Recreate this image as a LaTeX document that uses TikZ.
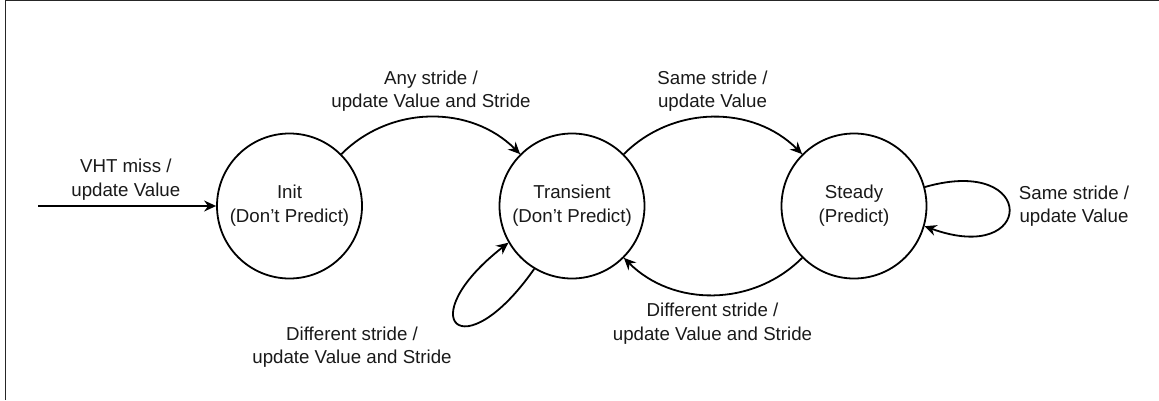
\documentclass[tikz,border=0pt]{standalone}
\usepackage{fontspec}
\setmainfont{Liberation Sans}
\usetikzlibrary{arrows.meta}

% two centred lines; the node's baseline is that of the first line
\newcommand{\twolines}[2]{\begin{tabular}[t]{@{}c@{}}#1\\#2\end{tabular}}

\begin{document}
\begin{tikzpicture}[
  x=1pt, y=1pt,
  every node/.style={font=\fontsize{18.7}{23.5}\selectfont, text=black!90},
  state/.style={circle, draw=black, line width=1.8pt, minimum size=145pt, inner sep=0pt},
  edge/.style={line width=1.8pt, -{Stealth[length=12pt, width=11pt, inset=4pt]}},
  lbl/.style={anchor=base, inner sep=0pt},
  frame/.style={line width=1pt, draw=black!85}
]
\useasboundingbox (0,0) rectangle (1159,400);
\draw[frame] (5,0) -- (5,399) -- (1159,399);

% states
\node[state] (init)   at (289.5,194) {\twolines{Init}{(Don’t Predict)}};
\node[state] (trans)  at (572,194)   {\twolines{Transient}{(Don’t Predict)}};
\node[state] (steady) at (854,194)   {\twolines{Steady}{(Predict)}};

% entry point
\coordinate (entry) at (38,194);

% transitions
\draw[edge] (entry) -- (init);
\draw[edge] (init.45) to[out=45, in=135] (trans.135);
\draw[edge] (trans.45) to[out=45, in=135] (steady.135);
\draw[edge] (steady.225) to[out=225, in=-45] (trans.-45);
\draw[edge] (trans.239) .. controls +(235:125) and +(218:125) .. (trans.210);
\draw[edge] (steady.15) .. controls +(16:118) and +(-20:118) .. (steady.-16);

% transition labels
\node[lbl] (l-miss)   at (125.8,227.5) {\twolines{VHT miss /}{update Value}};
\node[lbl] (l-any)    at (431,316)     {\twolines{Any stride /}{update Value and Stride}};
\node[lbl] (l-same)   at (712.5,316)   {\twolines{Same stride /}{update Value}};
\node[lbl] (l-diff)   at (712.5,83.3)  {\twolines{Different stride /}{update Value and Stride}};
\node[lbl] (l-loopT)  at (352,60)      {\twolines{Different stride /}{update Value and Stride}};
\node[lbl] (l-loopS)  at (1074,200.7)  {\twolines{Same stride /}{update Value}};
\end{tikzpicture}
\end{document}
